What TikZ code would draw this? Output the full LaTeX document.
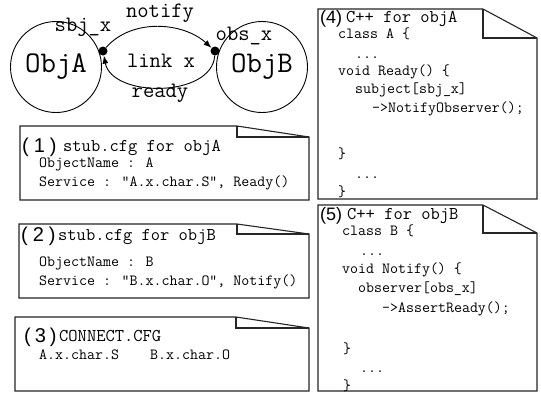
\documentclass[tikz,border=0pt]{standalone}
\usepackage{fontspec}
\newfontfamily\numfont{Liberation Sans}
\usetikzlibrary{arrows.meta}
\tikzset{
  notebox/.style={draw=black!85, line width=1.1pt, line join=miter},
  obj/.style={draw, circle, line width=0.9pt, minimum size=91pt, inner sep=0pt,
    font=\ttfamily\fontsize{30}{30}\selectfont},
  port/.style={circle, fill=black, inner sep=0pt, minimum size=9pt},
  lbl/.style={inner sep=0pt, font=\ttfamily\fontsize{22}{22}\selectfont},
  flow/.style={line width=0.9pt, -{Latex[length=8pt,width=6pt]}},
  num/.style={anchor=base west, inner sep=0pt, font=\numfont\fontsize{20}{20}\selectfont},
  numsm/.style={anchor=base west, inner sep=0pt, font=\numfont\fontsize{18}{18}\selectfont},
  ttl/.style={anchor=base west, inner sep=0pt, font=\ttfamily\fontsize{18}{18}\selectfont},
  body/.style={anchor=base west, inner sep=0pt, font=\ttfamily\fontsize{15.5}{18}\selectfont}
}
\newcommand{\notepath}[7]{% left top foldx foldy right bottom
  \draw[notebox] (#1,#6) -- (#1,#2) -- (#3,#2) -- (#5,#4) -- (#5,#6) -- cycle;
  \draw[notebox] (#3,#2) -- (#3,#4) -- (#5,#4);
}
\begin{document}
\begin{tikzpicture}[x=1pt,y=-1pt]
\useasboundingbox (0,0) rectangle (541,392);
\fill[white] (0,0) rectangle (541,392);

% objects
\node[obj] (objA) at (56,67) {ObjA};
\node[obj] (objB) at (262,67) {ObjB};
\node[port] (dA) at (103,51) {};
\node[port] (dB) at (215,51) {};
\draw[flow] (dA) .. controls (132,18) and (183,22) .. (dB);
\draw[flow] (dB) .. controls (212,98) and (112,98) .. (dA);
\node[lbl] (lnotify) at (160,13) {notify};
\node[lbl] (lsbj) at (83,27) {sbj\_x};
\node[lbl] (lobs) at (244,36) {obs\_x};
\node[lbl] (llink) at (161,61) {link x};
\node[lbl] (lready) at (160,93) {ready};

% box 1
\notepath{20}{126}{237}{137}{309}{200}{}
\node[num] (n1) at (22,152) {(\kern5pt1\kern5pt)};
\node[ttl] (t1) at (63,151) {stub.cfg for objA};
\node[body] (b1a) at (39,167) {ObjectName : A};
\node[body] (b1b) at (39,186) {Service : "A.x.char.S", Ready()};

% box 2
\notepath{19}{224}{237}{234}{309}{298}{}
\node[num] (n2) at (21,241) {(\kern5pt2\kern5pt)};
\node[ttl] (t2) at (58,240) {stub.cfg for objB};
\node[body] (b2a) at (39,266) {ObjectName : B};
\node[body] (b2b) at (39,285) {Service : "B.x.char.O", Notify()};

% box 3
\notepath{15}{317}{236}{328}{309}{391}{}
\node[num] (n3) at (24,342) {(\kern4pt3\kern4pt)};
\node[ttl] (t3) at (59,341) {CONNECT.CFG};
\node[body] (b3a) at (39,359) {A.x.char.S};
\node[body] (b3b) at (150,359) {B.x.char.O};

% box 4
\notepath{318}{9}{483}{38}{537}{199}{}
\node[numsm] (n4) at (320,23) {(4)};
\node[ttl] (t4) at (346,22) {C++ for objA};
\node[body] (c4a) at (338,38.5) {class A \{};
\node[body] (c4b) at (355,58) {...};
\node[body] (c4c) at (338,75) {void Ready() \{};
\node[body] (c4d) at (355,93) {subject[sbj\_x]};
\node[body] (c4e) at (372,112) {->NotifyObserver();};
\node[body] (c4f) at (338,158) {\}};
\node[body] (c4g) at (355,178) {...};
\node[body] (c4h) at (338,196) {\}};

% box 5
\notepath{318}{205}{483}{233}{537}{391}{}
\node[numsm] (n5) at (320,220) {(5)};
\node[ttl] (t5) at (347,219) {C++ for objB};
\node[body] (c5a) at (342,235) {class B \{};
\node[body] (c5b) at (360,255) {...};
\node[body] (c5c) at (342,273) {void Notify() \{};
\node[body] (c5d) at (358,292) {observer[obs\_x]};
\node[body] (c5e) at (382,312) {->AssertReady();};
\node[body] (c5f) at (343,353) {\}};
\node[body] (c5g) at (360,372) {...};
\node[body] (c5h) at (343,390) {\}};
\end{tikzpicture}
\end{document}
